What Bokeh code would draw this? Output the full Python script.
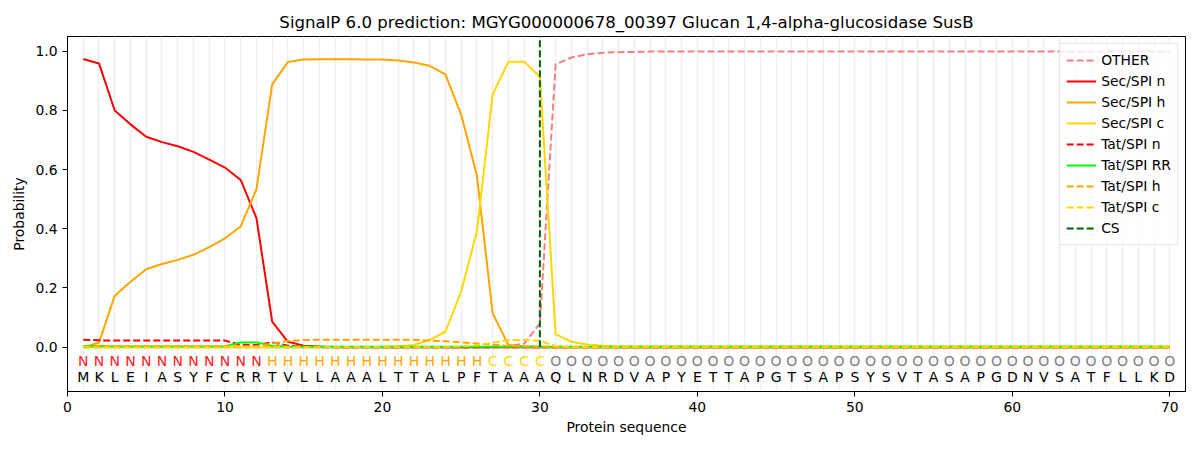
from bokeh.plotting import figure
from bokeh.models import Range1d, FixedTicker, Legend, LegendItem, ColumnDataSource, NumeralTickFormatter
from bokeh.core.properties import value
from bokeh.embed import file_html
from bokeh.resources import INLINE

title = "SignalP 6.0 prediction: MGYG000000678_00397 Glucan 1,4-alpha-glucosidase SusB"

sequence = list("MKLEIASYFCRRTVLLAAALTTALPFTAAAQLNRDVAPYETTAPGTSAPSYSVTASAPGDNVSATFLLKD")
labels = list("N" * 12 + "H" * 14 + "C" * 4 + "O" * 40)
positions = list(range(1, len(sequence) + 1))

other = [0.0] * 27 + [0.003, 0.012, 0.08, 0.956, 0.979, 0.99, 0.995, 0.997, 0.998] + [0.999] * 34
sec_n = [0.974, 0.959, 0.80, 0.753, 0.711, 0.693, 0.679, 0.66, 0.634, 0.607,
         0.565, 0.436, 0.086, 0.018, 0.005, 0.002] + [0.0] * 54
sec_h = [0.0, 0.015, 0.174, 0.221, 0.263, 0.281, 0.295, 0.312, 0.338, 0.368,
         0.408, 0.534, 0.888, 0.964, 0.972, 0.973, 0.973, 0.973, 0.972, 0.972,
         0.969, 0.962, 0.951, 0.922, 0.786, 0.58, 0.114, 0.007, 0.003, 0.001] + [0.0] * 40
sec_c = [0.0] * 19 + [0.001, 0.003, 0.007, 0.024, 0.052, 0.188, 0.391, 0.854, 0.965,
                      0.965, 0.914, 0.044, 0.018, 0.009, 0.005] + [0.002] * 36
tat_n = [0.025, 0.023] + [0.022] * 8 + [0.008, 0.007, 0.016, 0.005, 0.001] + [0.0] * 55
tat_rr = [0.003, 0.004] + [0.002] * 7 + [0.003, 0.016, 0.016, 0.004, 0.002] + [0.001] * 56
tat_h = [0.0] + [0.003] * 11 + [0.012, 0.021, 0.024] + [0.025] * 7 + \
        [0.022, 0.02, 0.016, 0.012, 0.008, 0.004, 0.002] + [0.0] * 41
tat_c = [0.0] * 24 + [0.003, 0.006, 0.015, 0.024, 0.024, 0.021, 0.003] + [0.0] * 39
cs_position = 30

series = [
    ("OTHER", other, "#F08080", "dashed"),
    ("Sec/SPI n", sec_n, "#FF0000", "solid"),
    ("Sec/SPI h", sec_h, "#FFA500", "solid"),
    ("Sec/SPI c", sec_c, "#FFD700", "solid"),
    ("Tat/SPI n", tat_n, "#FF0000", "dashed"),
    ("Tat/SPI RR", tat_rr, "#00FF00", "solid"),
    ("Tat/SPI h", tat_h, "#FFA500", "dashed"),
    ("Tat/SPI c", tat_c, "#FFD700", "dashed"),
]
label_colors = {"N": "#FF2020", "H": "#FFA500", "C": "#FFD700", "O": "#808080"}

FONT = "DejaVu Sans"
p = figure(width=1189, height=441, output_backend="svg", toolbar_location=None,
           x_range=Range1d(0, 71), y_range=Range1d(-0.15, 1.05),
           min_border_left=67, min_border_right=4, min_border_top=36, min_border_bottom=50)
p.title.text = title
p.title.align = "center"
p.title.text_font = FONT
p.title.text_font_style = "normal"
p.title.text_font_size = "16.6px"
p.title.text_color = "black"

p.outline_line_color = "black"
p.outline_line_width = 1
p.ygrid.visible = False
p.xgrid.ticker = FixedTicker(ticks=positions)
p.xgrid.grid_line_color = "#EFEFEF"
p.xgrid.grid_line_width = 1.5

p.xaxis.ticker = FixedTicker(ticks=[0, 10, 20, 30, 40, 50, 60, 70])
p.yaxis.ticker = FixedTicker(ticks=[0.0, 0.2, 0.4, 0.6, 0.8, 1.0])
p.yaxis.formatter = NumeralTickFormatter(format="0.0")
p.xaxis.axis_label = "Protein sequence"
p.yaxis.axis_label = "Probability"
for ax in (p.xaxis[0], p.yaxis[0]):
    ax.axis_label_text_font = FONT
    ax.axis_label_text_font_style = "normal"
    ax.axis_label_text_font_size = "13.9px"
    ax.axis_label_text_color = "black"
    ax.major_label_text_font = FONT
    ax.major_label_text_font_size = "13.9px"
    ax.major_label_text_color = "black"
    ax.minor_tick_line_color = None
    ax.major_tick_out = 5
    ax.major_tick_in = 0
    ax.axis_line_color = "black"
    ax.major_tick_line_color = "black"
p.xaxis.axis_label_standoff = 4
p.yaxis.axis_label_standoff = 5

items = []
for name, vals, color, dash in series:
    r = p.line(positions, vals, line_color=color, line_width=2,
               line_dash=("7 3" if dash == "dashed" else "solid"))
    items.append(LegendItem(label=name, renderers=[r]))

cs_r = p.line([cs_position, cs_position], [0, 1.05], line_color="#006400", line_width=2, line_dash="7 3")
items.append(LegendItem(label="CS", renderers=[cs_r]))

src_lab = ColumnDataSource(dict(x=positions, y=[-0.047] * len(labels), t=labels,
                                c=[label_colors[l] for l in labels]))
p.text(x="x", y="y", text="t", source=src_lab, text_color="c", text_align="center",
       text_baseline="middle", text_font=value(FONT), text_font_size="14px")
src_seq = ColumnDataSource(dict(x=positions, y=[-0.101] * len(sequence), t=sequence))
p.text(x="x", y="y", text="t", source=src_seq, text_color="black", text_align="center",
       text_baseline="middle", text_font=value(FONT), text_font_size="14px")

legend = Legend(items=items, location="top_right")
legend.label_text_font = FONT
legend.label_text_font_size = "13.9px"
legend.label_text_color = "black"
legend.glyph_width = 30
legend.glyph_height = 20
legend.label_height = 20
legend.spacing = 1
legend.padding = 6
legend.margin = 7
legend.border_line_color = "#CCCCCC"
legend.background_fill_alpha = 0.8
p.add_layout(legend)

open("out.html", "w").write(file_html(p, INLINE))
